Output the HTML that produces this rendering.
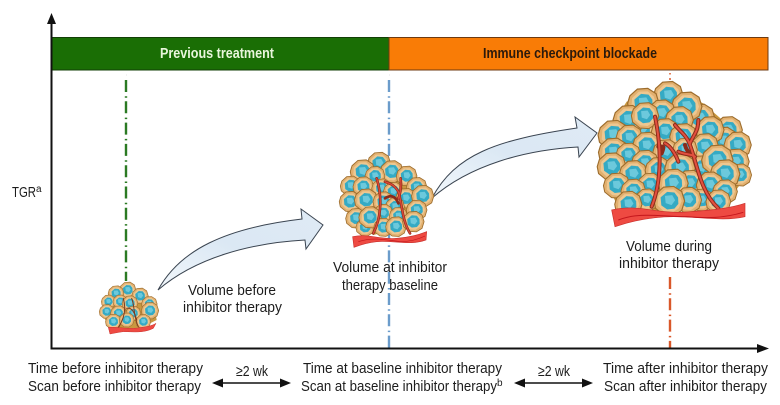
<!DOCTYPE html>
<html><head><meta charset="utf-8"><style>
html,body{margin:0;padding:0;background:#fff}
svg{display:block}
text{font-family:"Liberation Sans Narrow","Liberation Sans",sans-serif;font-size:15px;fill:#1c1c1c}
</style></head><body>
<svg width="780" height="405" viewBox="0 0 780 405" xmlns="http://www.w3.org/2000/svg">
<defs>
<g id="c" transform="scale(1.000)">
<g transform="scale(1.180)">
<path d="M-9-5-4-9.500 3-10 8.500-6.500 10.500 0 8.500 6.500 3 10-4 9.500-9.500 5-10.500 0Z" fill="#e2b06f" stroke="#9c6c2c" stroke-width=".8"/>
<path d="M-7.500-3.500-3-7.800 3-8 7-4.500 8.500 0 6.500 5 2 8-3.500 7.500-8 3Z" fill="#edc791"/>
<path d="M-6-2.500-1.500-6.300 3.500-5.800 6-2.500 6.200 2 3.500 5.200-1.500 5.800-5.500 3Z" fill="#35aac4"/>
<path d="M-3-3.500 2-4 4-.5 1.500 2.800-2.500 1.500Z" fill="#6cc9dc"/>
</g>
</g>
<linearGradient id="ab" x1="0" y1="1" x2="1" y2="0"><stop offset="0" stop-color="#f2f7fb"/><stop offset=".5" stop-color="#dbe8f4"/><stop offset="1" stop-color="#dfeaf5"/></linearGradient>
</defs>

<!-- bars -->
<rect x="52" y="37.500" width="337" height="32.500" fill="#1a6e05" stroke="#123f06" stroke-width="1"/>
<rect x="389" y="37.500" width="379" height="32.500" fill="#f97c06" stroke="#6d3a10" stroke-width="1"/>
<text x="160" y="58" textLength="114" lengthAdjust="spacingAndGlyphs" style="font-weight:bold;fill:#e9f6dc">Previous treatment</text>
<text x="483" y="58" textLength="174" lengthAdjust="spacingAndGlyphs" style="font-weight:bold;fill:#2b1a0c">Immune checkpoint blockade</text>

<!-- dashed guide lines -->
<g fill="none" stroke-width="2.400" stroke-dasharray="12 4.300 1.500 3.500">
<path d="M126 80V281" stroke="#2b7a23"/>
<path d="M389 80V348" stroke="#6b9ccb"/>
<path d="M670 277V348" stroke="#d9582a"/>
</g>
<path d="M126 75h.1M389 75h.1" stroke="#555" stroke-width="1.500" fill="none"/>
<path d="M670 73v1.500M670 78v2" stroke="#d9582a" stroke-width="1.500" fill="none"/>

<!-- axes -->
<path d="M51.500 22V348.500H760" fill="none" stroke="#111" stroke-width="2"/>
<path d="M51.500 13 56 24H47Z" fill="#111"/>
<path d="M769 348.500 757 344V353Z" fill="#111"/>

<!-- block arrows -->
<path d="M158 290C180 250 225 228 302 219L301 209 323 225 306 249 305 240C250 243 195 258 158 290Z" fill="url(#ab)" stroke="#3a4450" stroke-width="1"/>
<path d="M432 198C455 155 495 140 577 128L575 117 597 133 579 157 578 147C525 150 470 165 432 198Z" fill="url(#ab)" stroke="#3a4450" stroke-width="1"/>

<!-- large tumour -->
<g transform="translate(590 75) scale(.33333)">
<path d="M40 190 110 80 230 35 340 85 460 190 470 300 400 400 90 410 40 300Z" fill="#c9983f"/>
<use href="#c" transform="translate(235 62) scale(3.600)"/><use href="#c" transform="translate(160 85) scale(3.800)"/><use href="#c" transform="translate(330 130) scale(3.600)"/><use href="#c" transform="translate(290 95) scale(3.700)"/>
<use href="#c" transform="translate(215 115) scale(3.400)"/><use href="#c" transform="translate(155 165) scale(3.400)"/><use href="#c" transform="translate(115 135) scale(3.700)"/><use href="#c" transform="translate(165 122) scale(3.300)"/><use href="#c" transform="translate(268 135) scale(3.400)"/>
<use href="#c" transform="translate(415 165) scale(3.400)"/><use href="#c" transform="translate(400 198) scale(3.500)"/><use href="#c" transform="translate(360 165) scale(3.400)"/><use href="#c" transform="translate(443 210) scale(3.300)"/>
<use href="#c" transform="translate(70 180) scale(3.700)"/><use href="#c" transform="translate(118 188) scale(3.200)"/><use href="#c" transform="translate(225 170) scale(3.300)"/><use href="#c" transform="translate(280 185) scale(3.300)"/><use href="#c" transform="translate(345 215) scale(3.300)"/>
<use href="#c" transform="translate(170 212) scale(3.400)"/><use href="#c" transform="translate(70 232) scale(3.600)"/><use href="#c" transform="translate(115 240) scale(3)"/><use href="#c" transform="translate(228 232) scale(3.200)"/><use href="#c" transform="translate(285 225) scale(3)"/>
<use href="#c" transform="translate(165 265) scale(3.300)"/><use href="#c" transform="translate(65 275) scale(3.500)"/><use href="#c" transform="translate(130 297) scale(3.400)"/><use href="#c" transform="translate(205 285) scale(3.200)"/><use href="#c" transform="translate(335 280) scale(3.200)"/><use href="#c" transform="translate(270 280) scale(3.700)"/>
<use href="#c" transform="translate(438 260) scale(3.200)"/><use href="#c" transform="translate(450 300) scale(2.800)"/><use href="#c" transform="translate(382 255) scale(3.800)"/><use href="#c" transform="translate(405 297) scale(3.600)"/>
<use href="#c" transform="translate(180 330) scale(3)"/><use href="#c" transform="translate(80 332) scale(3.200)"/><use href="#c" transform="translate(130 348) scale(3)"/><use href="#c" transform="translate(300 325) scale(3.300)"/><use href="#c" transform="translate(250 325) scale(3.600)"/><use href="#c" transform="translate(360 330) scale(3.300)"/><use href="#c" transform="translate(405 350) scale(3)"/>
<use href="#c" transform="translate(170 375) scale(2.800)"/><use href="#c" transform="translate(115 388) scale(3.300)"/><use href="#c" transform="translate(335 375) scale(2.800)"/><use href="#c" transform="translate(295 375) scale(3.200)"/><use href="#c" transform="translate(238 378) scale(3.700)"/><use href="#c" transform="translate(385 380) scale(3)"/>
<g fill="none" stroke-linecap="round">
<g stroke="#8c2a1a" stroke-width="12">
<path d="M195 125C215 220 215 320 185 395"/><path d="M385 400C330 350 320 260 300 210 290 180 270 170 255 150"/><path d="M325 135C325 170 310 180 300 205"/><path d="M215 235C225 210 220 215 205 215M225 205C245 215 260 245 265 260M265 230C285 240 300 235 315 245M285 210C290 230 300 235 305 240"/>
</g>
<g stroke="#e2503f" stroke-width="6">
<path d="M195 125C215 220 215 320 185 395"/><path d="M385 400C330 350 320 260 300 210 290 180 270 170 255 150"/><path d="M325 135C325 170 310 180 300 205"/><path d="M225 205C245 215 260 245 265 260M265 230C285 240 300 235 315 245"/>
</g>
</g>
<path d="M65 405C150 385 200 420 300 410 370 405 420 400 465 385L465 425C400 440 330 425 250 425 180 425 120 440 75 455Z" fill="#ee4a42" stroke="#c9302c" stroke-width="2"/>
<path d="M85 435C150 410 210 425 290 425 350 430 400 430 460 412" fill="none" stroke="#c4161c" stroke-width="3"/>
</g>

<!-- medium tumour -->
<g transform="translate(330 140) scale(.33333)">
<path d="M50 130 140 45 250 110 295 160 270 250 130 285 60 240 40 180Z" fill="#c9983f"/>
<use href="#c" transform="translate(147 70) scale(2.800)"/><use href="#c" transform="translate(185 95) scale(2.800)"/><use href="#c" transform="translate(98 95) scale(3)"/><use href="#c" transform="translate(135 108) scale(2.400)"/><use href="#c" transform="translate(230 108) scale(2.500)"/>
<use href="#c" transform="translate(62 138) scale(2.500)"/><use href="#c" transform="translate(100 140) scale(2.500)"/><use href="#c" transform="translate(155 145) scale(2.400)"/><use href="#c" transform="translate(190 155) scale(2.400)"/><use href="#c" transform="translate(260 142) scale(2.500)"/>
<use href="#c" transform="translate(228 175) scale(2.500)"/><use href="#c" transform="translate(278 168) scale(2.700)"/><use href="#c" transform="translate(60 185) scale(2.600)"/><use href="#c" transform="translate(108 180) scale(2.800)"/><use href="#c" transform="translate(160 185) scale(2.500)"/>
<use href="#c" transform="translate(195 200) scale(2.300)"/><use href="#c" transform="translate(260 210) scale(2.500)"/><use href="#c" transform="translate(160 220) scale(2.300)"/><use href="#c" transform="translate(205 228) scale(2.200)"/><use href="#c" transform="translate(78 235) scale(2.500)"/>
<use href="#c" transform="translate(105 262) scale(2.200)"/><use href="#c" transform="translate(120 232) scale(2.700)"/><use href="#c" transform="translate(160 262) scale(2.300)"/><use href="#c" transform="translate(198 260) scale(2.500)"/><use href="#c" transform="translate(250 245) scale(2.600)"/>
<g fill="none" stroke-linecap="round">
<g stroke="#8c2a1a" stroke-width="8">
<path d="M140 115C160 180 150 240 130 280"/><path d="M240 280C215 240 215 180 205 155 190 130 175 130 165 125"/><path d="M212 115C215 140 210 165 205 175"/><path d="M165 175C180 165 195 165 205 190"/>
</g>
<g stroke="#dd4a38" stroke-width="4">
<path d="M140 115C160 180 150 240 130 280"/><path d="M240 280C215 240 215 180 205 155 190 130 175 130 165 125"/><path d="M212 115C215 140 210 165 205 175"/>
</g>
</g>
<path d="M68 290C120 280 150 300 200 295 240 292 265 285 290 275L288 300C240 318 190 300 140 305 110 308 90 315 72 322Z" fill="#ee4a42" stroke="#c9302c" stroke-width="2"/>
<path d="M85 305C130 290 170 300 210 305 240 305 265 298 285 288" fill="none" stroke="#c4161c" stroke-width="2"/>
</g>

<!-- small tumour -->
<g transform="translate(90 270) scale(.33333)">
<path d="M40 100 110 40 190 90 200 150 150 175 60 175 35 130Z" fill="#c9983f"/>
<use href="#c" transform="translate(113 60) scale(2)"/><use href="#c" transform="translate(78 70) scale(1.900)"/><use href="#c" transform="translate(150 78) scale(2)"/><use href="#c" transform="translate(55 95) scale(1.700)"/><use href="#c" transform="translate(90 95) scale(1.700)"/>
<use href="#c" transform="translate(120 100) scale(1.900)"/><use href="#c" transform="translate(178 102) scale(1.900)"/><use href="#c" transform="translate(50 125) scale(1.800)"/><use href="#c" transform="translate(85 130) scale(1.900)"/><use href="#c" transform="translate(130 130) scale(1.800)"/>
<use href="#c" transform="translate(180 122) scale(2.100)"/><use href="#c" transform="translate(70 155) scale(1.900)"/><use href="#c" transform="translate(110 150) scale(1.800)"/><use href="#c" transform="translate(160 155) scale(1.800)"/>
<g fill="none" stroke="#7d3a1c" stroke-width="3" stroke-linecap="round">
<path d="M100 85C110 120 100 150 85 172"/><path d="M145 170C130 140 135 110 125 85"/><path d="M110 115C125 110 135 130 140 150"/>
</g>
<path d="M55 172C90 170 120 180 155 172 170 170 185 168 198 160L190 175C160 190 130 185 100 185 85 187 70 190 60 192Z" fill="#ee4a42" stroke="#c9302c" stroke-width="1.500"/>
</g>

<!-- labels -->
<text x="12" y="197" textLength="24" lengthAdjust="spacingAndGlyphs">TGR</text>
<text x="36" y="192" style="font-size:10px">a</text>
<text x="188" y="295" textLength="88" lengthAdjust="spacingAndGlyphs">Volume before</text>
<text x="183" y="312" textLength="99" lengthAdjust="spacingAndGlyphs">inhibitor therapy</text>
<text x="333" y="272" textLength="114" lengthAdjust="spacingAndGlyphs">Volume at inhibitor</text>
<text x="342" y="290" textLength="96" lengthAdjust="spacingAndGlyphs">therapy baseline</text>
<text x="626" y="251" textLength="86" lengthAdjust="spacingAndGlyphs">Volume during</text>
<text x="619" y="268" textLength="100" lengthAdjust="spacingAndGlyphs">inhibitor therapy</text>

<text x="28" y="373" textLength="175" lengthAdjust="spacingAndGlyphs">Time before inhibitor therapy</text>
<text x="28" y="391" textLength="173" lengthAdjust="spacingAndGlyphs">Scan before inhibitor therapy</text>
<text x="303" y="373" textLength="199" lengthAdjust="spacingAndGlyphs">Time at baseline inhibitor therapy</text>
<text x="301" y="391" textLength="196" lengthAdjust="spacingAndGlyphs">Scan at baseline inhibitor therapy</text>
<text x="497" y="386" style="font-size:10px">b</text>
<text x="603" y="373" textLength="165" lengthAdjust="spacingAndGlyphs">Time after inhibitor therapy</text>
<text x="604" y="391" textLength="163" lengthAdjust="spacingAndGlyphs">Scan after inhibitor therapy</text>
<text x="236" y="376" textLength="32" lengthAdjust="spacingAndGlyphs">≥2 wk</text>
<text x="538" y="376" textLength="32" lengthAdjust="spacingAndGlyphs">≥2 wk</text>

<!-- double arrows -->
<path d="M220 383H284M522 383H586" fill="none" stroke="#111" stroke-width="1.500"/>
<path d="M212 383 223 378.500V387.500ZM291 383 280 378.500V387.500ZM514 383 525 378.500V387.500ZM593 383 582 378.500V387.500Z" fill="#111"/>
</svg>
</body></html>
